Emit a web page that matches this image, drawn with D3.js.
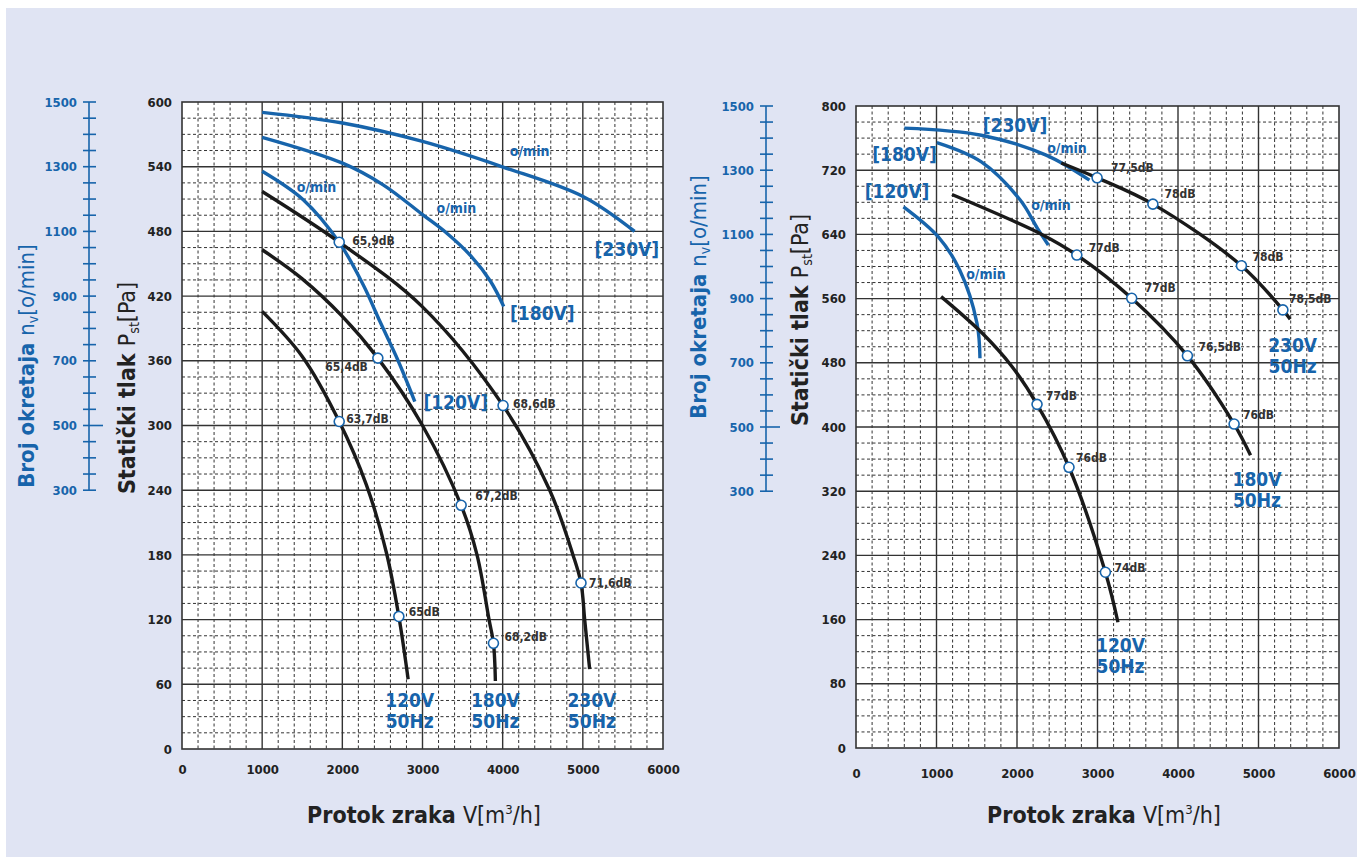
<!DOCTYPE html>
<html>
<head>
<meta charset="utf-8">
<script src="https://cdn.jsdelivr.net/npm/d3@7"></script>
<style>
  body { margin: 0; background: #fff; }
  svg text { font-family: "DejaVu Sans Condensed", "DejaVu Sans", sans-serif; }
</style>
</head>
<body>
<svg id="chart" width="1357" height="857"></svg>
<script>
// fan curves: static pressure [Pa] vs air flow [m3/h], rpm curves vs air flow
const flowTicks = [0, 1000, 2000, 3000, 4000, 5000, 6000];
const rpmTicks = [300, 500, 700, 900, 1100, 1300, 1500];

// ---- left chart
const leftPaTicks = [0, 60, 120, 180, 240, 300, 360, 420, 480, 540, 600];
const leftFan120 = [[1000, 405.8], [1500, 364], [1961, 303.7], [2300, 245], [2550, 182], [2705, 122.9], [2821, 64.7]];
const leftFan180 = [[1000, 463], [1500, 436], [2003, 401], [2443, 362.5], [3000, 300], [3482, 226], [3680, 180], [3830, 120], [3885, 98], [3909, 63]];
const leftFan230 = [[1000, 517], [1961, 470], [3000, 410], [4005, 318.5], [4587, 240], [4877, 180], [4977, 154], [5023, 120], [5085, 74]];
const leftRpm120 = [[1000, 1286], [1512, 1198], [1961, 1066], [2260, 935], [2468, 822], [2700, 698], [2904, 574]];
const leftRpm180 = [[1000, 1391], [2003, 1311], [2509, 1244], [3000, 1152], [3300, 1095], [3600, 1025], [3850, 945], [4013, 868]];
const leftRpm230 = [[1000, 1468], [2003, 1435], [3000, 1378], [4005, 1299], [5002, 1208], [5646, 1100]];
const leftDb = [
  [1961, 303.7, "63,7dB"], [2705, 122.9, "65dB"],
  [2443, 362.5, "65,4dB"], [3482, 226, "67,2dB"], [3885, 98, "68,2dB"],
  [1961, 470, "65,9dB"], [4005, 318.5, "68,6dB"], [4977, 154, "71,6dB"]
];

// ---- right chart
const rightPaTicks = [0, 80, 160, 240, 320, 400, 480, 560, 640, 720, 800];
const rightFan120 = [[1057, 562.5], [1557, 518], [1932, 476], [2249, 428.2], [2646, 349.8], [3098, 219], [3254, 156.7]];
const rightFan180 = [[1192, 689.7], [2308, 640], [2743, 614.3], [3425, 560.4], [4117, 488.7], [4697, 403.7], [4901, 364.8]];
const rightFan230 = [[2550, 729], [2995, 710.5], [3688, 677.7], [4788, 601], [5303, 545.9], [5394, 534.3]];
const rightRpm120 = [[590, 1186], [1020, 1093], [1288, 989], [1503, 823], [1540, 714]];
const rightRpm180 = [[1004, 1386], [1557, 1326], [2040, 1207], [2254, 1119], [2389, 1067]];
const rightRpm230 = [[600, 1431], [1557, 1409], [2362, 1347], [2900, 1269]];
const rightDb = [
  [2995, 710.5, "77,5dB"], [3688, 677.7, "78dB"], [4788, 601, "78dB"], [5303, 545.9, "78,5dB"],
  [2743, 614.3, "77dB"], [3425, 560.4, "77dB"], [4117, 488.7, "76,5dB"], [4697, 403.7, "76dB"],
  [2249, 428.2, "77dB"], [2646, 349.8, "76dB"], [3098, 219, "74dB"]
];

const BLUE = "#1764ab";
const INK = "#222";

const svg = d3.select("#chart");
svg.append("rect").attr("x", 6).attr("y", 8).attr("width", 1351).attr("height", 849).attr("fill", "#e0e4f3");

function drawChart(cfg) {
  const g = svg.append("g");
  const x = d3.scaleLinear().domain([0, 6000]).range(cfg.xRange);
  const pMax = cfg.paTicks[cfg.paTicks.length - 1];
  const y = d3.scaleLinear().domain([0, pMax]).range(cfg.yRange);
  // rpm axis shares the plot: 500 rpm sits on cfg.pa500, 1500 rpm on the top line
  const r = d3.scaleLinear().domain([500, 1500]).range([y(cfg.pa500), y(pMax)]);

  const x0 = x(0), x1 = x(6000), yT = y(pMax), yB = y(0);
  g.append("rect").attr("x", x0).attr("y", yT).attr("width", x1 - x0).attr("height", yB - yT).attr("fill", "#fff");

  // minor grid
  const minorV = d3.range(200, 6000, 200).filter(v => v % 1000 !== 0);
  const majorP = cfg.paTicks[1];
  const minorP = d3.range(cfg.minorStep, pMax, cfg.minorStep).filter(p => Math.abs(p % majorP) > 1e-6);
  g.append("g").selectAll("line").data(minorV).join("line")
    .attr("x1", d => x(d)).attr("x2", d => x(d)).attr("y1", yT).attr("y2", yB)
    .attr("stroke", "#333").attr("stroke-width", 1).attr("stroke-dasharray", "3,2.5");
  g.append("g").selectAll("line").data(minorP).join("line")
    .attr("y1", d => y(d)).attr("y2", d => y(d)).attr("x1", x0).attr("x2", x1)
    .attr("stroke", "#333").attr("stroke-width", 1).attr("stroke-dasharray", "3,2.5");

  // major grid
  g.append("g").selectAll("line").data(flowTicks.slice(1, -1)).join("line")
    .attr("x1", d => x(d)).attr("x2", d => x(d)).attr("y1", yT).attr("y2", yB)
    .attr("stroke", "#333").attr("stroke-width", 1.4);
  g.append("g").selectAll("line").data(cfg.paTicks.slice(1, -1)).join("line")
    .attr("y1", d => y(d)).attr("y2", d => y(d)).attr("x1", x0).attr("x2", x1)
    .attr("stroke", "#333").attr("stroke-width", 1.4);
  g.append("rect").attr("x", x0).attr("y", yT).attr("width", x1 - x0).attr("height", yB - yT)
    .attr("fill", "none").attr("stroke", "#333").attr("stroke-width", 1.6);

  // pressure axis
  g.append("g").attr("transform", `translate(${x0},0)`)
    .call(d3.axisLeft(y).tickValues(cfg.paTicks).tickSize(0).tickPadding(10))
    .call(a => a.select(".domain").remove())
    .selectAll("text").attr("font-size", 13).attr("font-weight", "bold").attr("fill", INK)
    .attr("font-family", null);

  // flow axis
  g.append("g").attr("transform", `translate(0,${yB})`)
    .call(d3.axisBottom(x).tickValues(flowTicks).tickFormat(d3.format("d")).tickSize(0).tickPadding(cfg.xPad))
    .call(a => a.select(".domain").remove())
    .selectAll("text").attr("font-size", 13).attr("font-weight", "bold").attr("fill", INK)
    .attr("font-family", null);

  // rpm axis
  const ra = g.append("g");
  ra.append("line").attr("x1", cfg.rpmX).attr("x2", cfg.rpmX).attr("y1", r(300)).attr("y2", r(1500))
    .attr("stroke", BLUE).attr("stroke-width", 1.6);
  ra.selectAll(".rt").data(d3.range(300, 1501, 50)).join("line")
    .attr("x1", cfg.rpmX - 6).attr("x2", d => cfg.rpmX + (d === 500 ? 14 : 7))
    .attr("y1", d => r(d)).attr("y2", d => r(d))
    .attr("stroke", BLUE).attr("stroke-width", 1.6);
  ra.selectAll("text").data(rpmTicks).join("text")
    .attr("x", cfg.rpmX - 12).attr("y", d => r(d)).attr("dy", "0.35em")
    .attr("text-anchor", "end").attr("font-size", 13).attr("font-weight", "bold").attr("fill", BLUE)
    .text(d => d);

  // axis titles
  const t1 = g.append("text").attr("transform", `translate(${cfg.rpmTitle[0]},${cfg.rpmTitle[1]}) rotate(-90)`)
    .attr("text-anchor", "middle").attr("font-size", 22).attr("fill", BLUE);
  t1.append("tspan").attr("font-weight", "bold").text("Broj okretaja ");
  t1.append("tspan").text("n");
  t1.append("tspan").attr("font-size", 14).attr("dy", 4).text("v");
  t1.append("tspan").attr("dy", -4).text("[o/min]");

  const t2 = g.append("text").attr("transform", `translate(${cfg.paTitle[0]},${cfg.paTitle[1]}) rotate(-90)`)
    .attr("text-anchor", "middle").attr("font-size", 23).attr("fill", INK);
  t2.append("tspan").attr("font-weight", "bold").text("Statički tlak ");
  t2.append("tspan").text("P");
  t2.append("tspan").attr("font-size", 14).attr("dy", 4).text("st");
  t2.append("tspan").attr("dy", -4).text("[Pa]");

  const t3 = g.append("text").attr("x", cfg.flowTitle[0]).attr("y", cfg.flowTitle[1])
    .attr("text-anchor", "middle").attr("font-size", 23).attr("fill", INK);
  t3.append("tspan").attr("font-weight", "bold").text("Protok zraka ");
  t3.append("tspan").text("V[m");
  t3.append("tspan").attr("font-size", 13).attr("dy", -9).text("3");
  t3.append("tspan").attr("dy", 9).text("/h]");

  // curves
  const curve = d3.curveCatmullRom.alpha(0.5);
  const paLine = d3.line().x(d => x(d[0])).y(d => y(d[1])).curve(curve);
  const rpmLine = d3.line().x(d => x(d[0])).y(d => r(d[1])).curve(curve);
  cfg.rpm.forEach(s => g.append("path").attr("d", rpmLine(s))
    .attr("fill", "none").attr("stroke", BLUE).attr("stroke-width", 3.4));
  cfg.fan.forEach(s => g.append("path").attr("d", paLine(s))
    .attr("fill", "none").attr("stroke", "#1a1a1a").attr("stroke-width", 3.4));

  // noise points
  g.selectAll(".db").data(cfg.db).join("circle")
    .attr("cx", d => x(d[0])).attr("cy", d => y(d[1])).attr("r", 5)
    .attr("fill", "#fff").attr("stroke", BLUE).attr("stroke-width", 1.6);
  g.selectAll(".dbl").data(cfg.db).join("text")
    .attr("x", (d, i) => x(d[0]) + cfg.dbOff[i][0]).attr("y", (d, i) => y(d[1]) + cfg.dbOff[i][1])
    .attr("text-anchor", (d, i) => cfg.dbOff[i][0] < 0 ? "end" : "start")
    .attr("font-size", 12).attr("font-weight", "bold").attr("fill", "#333")
    .text(d => d[2]);

  // curve labels
  cfg.notes.forEach(n => {
    const t = g.append("text").attr("x", x(n[0])).attr("y", y(n[1]))
      .attr("text-anchor", "middle").attr("font-weight", "bold").attr("fill", BLUE)
      .attr("font-size", n[3]);
    n[2].split("\n").forEach((line, i) => t.append("tspan").attr("x", x(n[0])).attr("dy", i ? 21 : 0).text(line));
  });
}

drawChart({
  xRange: [182, 663], yRange: [749, 102], paTicks: leftPaTicks, minorStep: 15, pa500: 300,
  xPad: 16, rpmX: 89, rpmTitle: [34, 366], paTitle: [135, 388], flowTitle: [424, 823],
  fan: [leftFan120, leftFan180, leftFan230],
  rpm: [leftRpm120, leftRpm180, leftRpm230],
  db: leftDb,
  dbOff: [[7, 1.5], [10, 0], [-10, 13], [14, -5], [11, -2], [13, 3], [10, 2.5], [8, 4]],
  notes: [
    [1678, 517, "o/min", 14], [3423, 497, "o/min", 14], [4336, 550, "o/min", 14],
    [5549, 457, "[230V]", 19], [4495, 398, "[180V]", 19], [3414, 315, "[120V]", 19],
    [2841, 39, "120V\n50Hz", 19], [3909, 39, "180V\n50Hz", 19], [5113, 39, "230V\n50Hz", 19]
  ]
});

drawChart({
  xRange: [856, 1339], yRange: [748, 106], paTicks: rightPaTicks, minorStep: 20, pa500: 400,
  xPad: 21, rpmX: 766, rpmTitle: [706, 297], paTitle: [808, 320], flowTitle: [1104, 823],
  fan: [rightFan120, rightFan180, rightFan230],
  rpm: [rightRpm120, rightRpm180, rightRpm230],
  db: rightDb,
  dbOff: [[14, -6], [11.5, -6], [11, -5], [6, -7], [12, -3], [13, -6], [11, -5], [9, -5], [9, -4], [7, -5], [9, 0]],
  notes: [
    [2621, 742, "o/min", 14], [2422, 670, "o/min", 14], [1615, 585, "o/min", 14],
    [1975, 768, "[230V]", 19], [602, 731, "[180V]", 19], [509, 685, "[120V]", 19],
    [5424, 494, "230V\n50Hz", 19], [4981, 326, "180V\n50Hz", 19], [3286, 120, "120V\n50Hz", 19]
  ]
});
</script>
</body>
</html>
